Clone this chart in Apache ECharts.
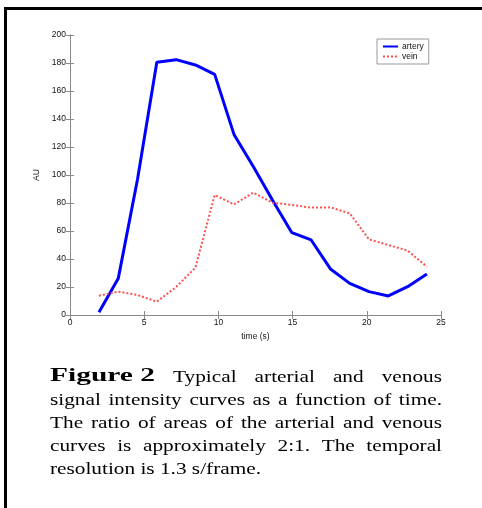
<!DOCTYPE html>
<html><head><meta charset="utf-8">
<script src="https://cdn.jsdelivr.net/npm/echarts@6/dist/echarts.min.js"></script>
<style>html,body{margin:0;padding:0;background:#fff}#c{width:482px;height:508px}</style>
</head><body><div id="c"></div>
<script>
// ---- data ----
var times = [1.95, 3.25, 4.55, 5.85, 7.15, 8.45, 9.75, 11.05, 12.35, 13.65, 14.95, 16.25, 17.55, 18.85, 20.15, 21.45, 22.75, 24.05];
var artery = [2, 26, 97, 180.5, 182.4, 178.6, 171.9, 129, 106, 82, 58.8, 53.6, 32.9, 22.6, 16.7, 13.6, 20.2, 29.3];
var vein = [13.8, 16.7, 14.3, 9.5, 20, 33.8, 85.7, 79, 87.4, 80.2, 78.6, 76.7, 76.9, 72.6, 54, 50, 46, 34.5];
var seriesNames = ['artery', 'vein'];
var xTicks = [0, 5, 10, 15, 20, 25];
var yTicks = [0, 20, 40, 60, 80, 100, 120, 140, 160, 180, 200];
var xName = 'time (s)';
var yName = 'AU';
var captionLines = [
  [{t:'Figure 2', bold:true}, {t:'Typical arterial and venous'}],
  [{t:'signal intensity curves as a function of time.'}],
  [{t:'The ratio of areas of the arterial and venous'}],
  [{t:'curves is approximately 2:1.  The temporal'}],
  [{t:'resolution is 1.3 s/frame.'}]
];

function pairs(xs, ys){ return xs.map(function(x,i){ return [x, ys[i]]; }); }

// ---- caption layout (justified) ----
var cv = document.createElement('canvas').getContext('2d');
var BODY = '16px "Liberation Serif"', BOLD = 'bold 19px "Liberation Serif"';
var SX = 1.33, SXB = 1.55, LEFT = 50, RIGHT = 442, BASE0 = 386, LH = 23;
var graphics = [
  {type:'rect', shape:{x:4,y:7,width:3,height:501}, style:{fill:'#000'}},
  {type:'rect', shape:{x:4,y:7,width:478,height:3}, style:{fill:'#000'}}
];
captionLines.forEach(function(line, li){
  var words = [];
  line.forEach(function(seg){
    if (seg.bold) { words.push({t:seg.t, font:BOLD, sx:SXB}); }
    else seg.t.split(/\s+/).forEach(function(w){ words.push({t:w, font:BODY, sx:SX}); });
  });
  var total = 0;
  words.forEach(function(w){ cv.font = w.font; w.w = cv.measureText(w.t).width * w.sx; total += w.w; });
  var justify = li < captionLines.length - 1;
  cv.font = BODY;
  var gap = justify ? (RIGHT - LEFT - total) / (words.length - 1) : cv.measureText(' ').width * SX;
  var x = LEFT, y = BASE0 + li * LH;
  words.forEach(function(w){
    graphics.push({type:'text', x:x, y:y, scaleX:w.sx,
      style:{text:w.t, font:w.font, fill:'#000', verticalAlign:'bottom', align:'left'}});
    x += w.w + gap;
  });
});

var axisCol = '#8a8a8a';
var lblFont = {fontSize:8.5, color:'#111', fontFamily:'Liberation Sans'};
var chart = echarts.init(document.getElementById('c'));
chart.setOption({
  animation:false,
  backgroundColor:'#fff',
  grid:{left:70, right:41, top:35, bottom:193},
  legend:{data:seriesNames, orient:'vertical', left:377, top:39, backgroundColor:'#fff',
    borderColor:'#999', borderWidth:1, borderRadius:0, padding:[3,5,3,5], itemGap:1,
    itemWidth:15, itemHeight:8, itemStyle:{opacity:0},
    textStyle:{fontSize:8.5, color:'#111', fontFamily:'Liberation Sans', padding:[0,0,0,-1]}},
  xAxis:[
    {type:'value', min:xTicks[0], max:xTicks[xTicks.length-1], interval:5, position:'bottom',
     name:xName, nameLocation:'middle', nameGap:13, nameTextStyle:lblFont,
     axisLine:{lineStyle:{color:axisCol}}, axisTick:{inside:true, length:4, lineStyle:{color:axisCol}},
     axisLabel:Object.assign({margin:3}, lblFont), splitLine:{show:false}},
    {type:'value', min:xTicks[0], max:xTicks[xTicks.length-1], interval:5, position:'top',
     axisLine:{lineStyle:{color:axisCol}}, axisTick:{inside:true, length:4, lineStyle:{color:axisCol}},
     axisLabel:{show:false}, splitLine:{show:false}}
  ],
  yAxis:[
    {type:'value', min:yTicks[0], max:yTicks[yTicks.length-1], interval:20, position:'left',
     name:yName, nameLocation:'middle', nameGap:18, nameRotate:90, nameTextStyle:lblFont,
     axisLine:{show:true, lineStyle:{color:axisCol}}, axisTick:{show:true, inside:true, length:4, lineStyle:{color:axisCol}},
     axisLabel:Object.assign({margin:4}, lblFont), splitLine:{show:false}},
    {type:'value', min:yTicks[0], max:yTicks[yTicks.length-1], interval:20, position:'right',
     axisLine:{show:true, lineStyle:{color:axisCol}}, axisTick:{show:true, inside:true, length:4, lineStyle:{color:axisCol}},
     axisLabel:{show:false}, splitLine:{show:false}}
  ],
  series:[
    {name:seriesNames[0], type:'line', data:pairs(times, artery), symbol:'none',
     itemStyle:{color:'#0000ff'}, lineStyle:{color:'#0000ff', width:3}},
    {name:seriesNames[1], type:'line', data:pairs(times, vein), symbol:'none',
     itemStyle:{color:'#ff5050'}, lineStyle:{color:'#ff5050', width:2, type:'dotted'}}
  ],
  graphic:graphics
});
</script></body></html>
